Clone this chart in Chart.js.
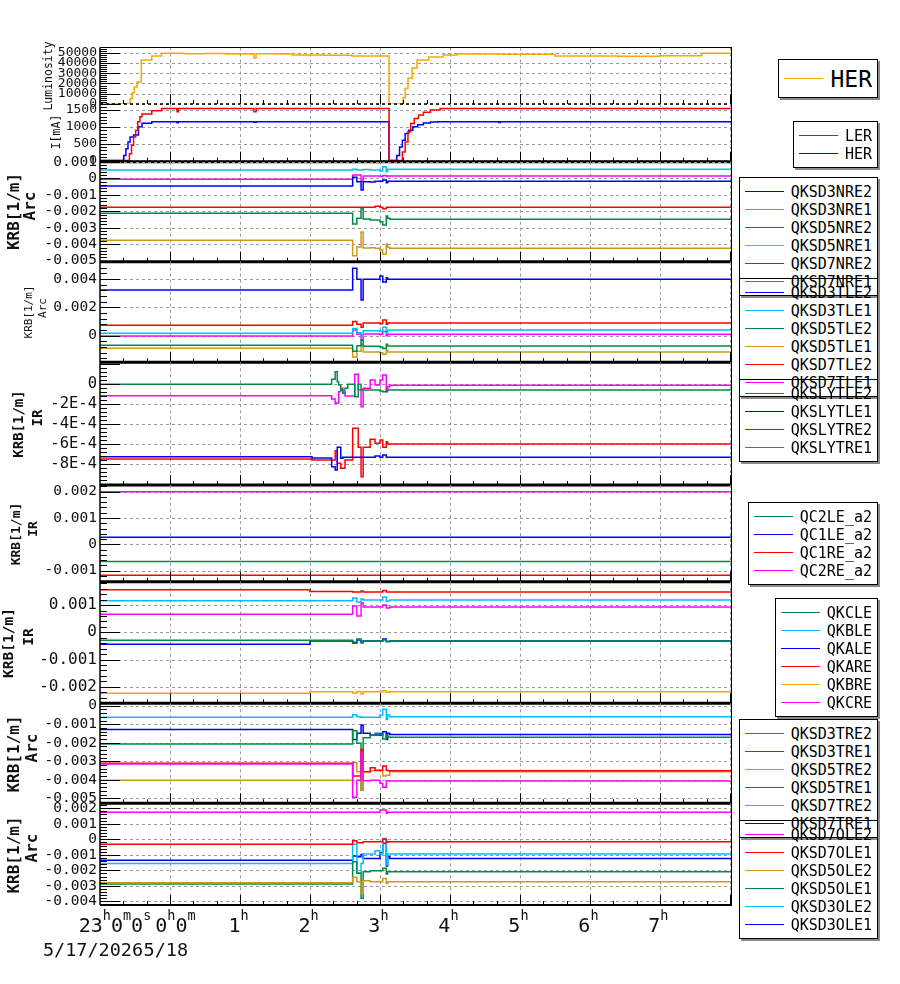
<!DOCTYPE html>
<html>
<head>
<meta charset="utf-8">
<script src="https://cdn.jsdelivr.net/npm/chart.js@4.4.1/dist/chart.umd.min.js"></script>
<style>
  body { margin: 0; background: #fff; }
  #wrap { position: relative; width: 900px; height: 984px; overflow: hidden; }
  #wrap canvas { position: absolute; left: 0; }
  .lg { position: absolute; right: 22px; border: 1px solid #000; box-shadow: 2px 2px 0 #8a8a8a;
        padding: 4.5px 5px; font: 15px "DejaVu Sans Mono", monospace; line-height: 18px; color: #000; }
  .lg div { display: flex; align-items: center; white-space: pre; }
  .lg i { display: inline-block; width: 39px; border-top: 1.5px solid; margin-right: 7px; }
  .lg.big { font-size: 23px; line-height: 28px; }
</style>
</head>
<body>
<div id="wrap"></div>
<script>
// time is in hours since 23:00 on 5/17
const T_END = 9.03;
const hourTicks = [0, 1, 2, 3, 4, 5, 6, 7, 8, 9];
const hourLabels = ['23', '0', '1', '2', '3', '4', '5', '6', '7'];
const dateLabels = ['5/17/2026', '5/18'];

// luminosity (HER)
const tLum = [0, 0.41, 0.43, 0.46, 0.49, 0.53, 0.59, 0.74, 0.88, 1.2, 1.5, 1.8, 2.2, 2.23, 2.5, 2.75, 3.2, 3.6, 4.13,
              4.29, 4.33, 4.36, 4.40, 4.46, 4.53, 4.7, 4.9, 5.1, 5.7, 6.5, 7.4, 8.0, 8.6, 9.03];
const lumHER = [0, 0, 5000, 11000, 16500, 21500, 43000, 46800, 49500, 49000, 49300, 48800, 44800, 49000, 48800, 47800, 47500, 46800, 0,
                0, 6000, 15000, 25000, 35000, 43000, 45800, 47700, 48700, 48500, 46800, 46500, 47000, 49500, 49500];

// beam currents [mA]
const tLER = [0, 0.39, 0.42, 0.45, 0.48, 0.51, 0.54, 0.57, 0.60, 0.74, 0.88, 1.10, 1.12, 2.20, 2.23, 4.13,
              4.29, 4.32, 4.36, 4.40, 4.44, 4.49, 4.55, 4.62, 4.72, 4.86, 9.03];
const curLER = [0, 0, 200, 450, 700, 900, 1150, 1300, 1380, 1480, 1548, 1450, 1548, 1450, 1548, 0,
                0, 250, 550, 850, 1100, 1250, 1350, 1430, 1500, 1548, 1548];
const tHER = [0, 0.31, 0.34, 0.37, 0.40, 0.43, 0.48, 0.55, 0.60, 0.74, 1.10, 1.12, 2.20, 2.23, 4.13,
              4.21, 4.24, 4.28, 4.32, 4.36, 4.41, 4.47, 4.54, 4.62, 4.72, 4.83, 5.70, 5.72, 9.03];
const curHER = [0, 0, 150, 350, 550, 700, 757, 1000, 1104, 1153, 1120, 1153, 1135, 1153, 0,
                0, 150, 400, 600, 800, 900, 1000, 1060, 1110, 1140, 1153, 1130, 1153, 1153];

// sample times of the arc sextupole-skew settings
const tArc = [0, 3.61, 3.67, 3.73, 3.76, 3.86, 3.93, 4.00, 4.04, 4.09, 4.11, 4.14, 9.03];

const nreNames = ['QKSD3NRE2', 'QKSD3NRE1', 'QKSD5NRE2', 'QKSD5NRE1', 'QKSD7NRE2', 'QKSD7NRE1'];
const nreValues = [
  [-0.00047, 0.00006, -0.00021, -0.00071, -0.00021, -0.00022, -0.00018, -0.00018, -0.0001, -0.00027, -0.00018, -0.00018, -0.00018],
  [0.0005, 0.00055, 0.0005, 0.0005, 0.00053, 0.0005, 0.0005, 0.00044, 0.0007, 0.0004, 0.00055, 0.00055, 0.00055],
  [-0.00212, -0.00277, -0.00243, -0.00182, -0.00247, -0.00253, -0.00253, -0.00263, -0.00283, -0.00229, -0.00243, -0.00249, -0.00249],
  [-0.00376, -0.0047, -0.00417, -0.00326, -0.00423, -0.00421, -0.00425, -0.00435, -0.00459, -0.00399, -0.00419, -0.00425, -0.00425],
  [-0.00176, -0.00176, -0.00176, -0.00176, -0.00176, -0.00176, -0.0017, -0.00176, -0.00184, -0.00176, -0.00176, -0.00176, -0.00176],
  [-0.00006, 0.0002, 0.0002, -0.00016, 0.00014, 0.00014, 0.00014, 0.00011, 0.00017, 0.00011, 0.00014, 0.00014, 0.00014]
];

const tleNames = ['QKSD3TLE2', 'QKSD3TLE1', 'QKSD5TLE2', 'QKSD5TLE1', 'QKSD7TLE2', 'QKSD7TLE1'];
const tleValues = [
  [0.00322, 0.00475, 0.00397, 0.00251, 0.00397, 0.00397, 0.00397, 0.0042, 0.00378, 0.00408, 0.00397, 0.00397, 0.00397],
  [0.00017, 0.0005, 0.0002, 0.0, 0.00035, 0.00035, 0.00035, 0.0003, 0.0006, 0.00025, 0.0004, 0.0004, 0.0004],
  [-0.00068, -0.0011, -0.0007, -0.0003, -0.00075, -0.00075, -0.00075, -0.0008, -0.0009, -0.0006, -0.00073, -0.00073, -0.00073],
  [-0.00089, -0.0015, -0.0011, -0.0006, -0.00115, -0.00115, -0.00115, -0.0012, -0.0013, -0.001, -0.00115, -0.00115, -0.00115],
  [0.00073, 0.001, 0.0008, 0.0006, 0.0009, 0.0009, 0.0009, 0.00085, 0.0011, 0.0008, 0.00089, 0.00089, 0.00089],
  [-0.00002, 0.0004, 0.0001, -0.0003, 0.00012, 0.00012, 0.00012, 0.0001, 0.0003, 0.0, 0.0001, 0.0001, 0.0001]
];

// IR skew sextupoles (QKSLY)
const tSly = [0, 3.03, 3.31, 3.36, 3.39, 3.41, 3.44, 3.47, 3.50, 3.54, 3.61, 3.64, 3.69, 3.73, 3.76, 3.86, 3.93, 4.00, 4.04, 4.09, 4.11, 4.14, 9.03];
const slyNames = ['QKSLYTLE2', 'QKSLYTLE1', 'QKSLYTRE2', 'QKSLYTRE1'];
const slyValues = [
  [-0.000006, -0.000006, 0.000044, 0.00012, 0.00002, -0.000013, -0.000063, -0.000096, -0.000046, -0.000006, -0.000006, -0.00013,
   -0.000006, -0.000063, -0.000063, -0.000063, -0.000063, -0.000073, -0.00008, -0.000063, -0.000063, -0.000063, -0.000063],
  [-0.00073, -0.000743, -0.00083, -0.000863, -0.000636, -0.000636, -0.000746, -0.000736, -0.000736, -0.000736, -0.000736, -0.000736,
   -0.000736, -0.000736, -0.000736, -0.000736, -0.000723, -0.000736, -0.000713, -0.000736, -0.000736, -0.000736, -0.000736],
  [-0.000753, -0.000763, -0.000763, -0.00067, -0.000796, -0.000796, -0.000846, -0.000846, -0.000763, -0.000763, -0.000446, -0.000446,
   -0.000636, -0.00093, -0.000636, -0.000556, -0.000596, -0.000563, -0.000636, -0.00058, -0.000603, -0.000603, -0.000603],
  [-0.00012, -0.00012, -0.000153, -0.000196, -0.000193, -0.00008, -0.000046, -0.000096, -0.000123, -0.000123, -0.000123, 0.000094,
   -0.000063, -0.00023, -0.000046, 0.000037, -0.000013, 0.000037, 0.000087, -0.00008, -0.00003, -0.000016, -0.000016]
];

// final-focus skew components
const tQC = [0, 9.03];
const qcNames = ['QC2LE_a2', 'QC1LE_a2', 'QC1RE_a2', 'QC2RE_a2'];
const qcValues = [[-0.00065, -0.00065], [0.00027, 0.00027], [-0.00118, -0.00118], [0.002, 0.002]];

const tQK = [0, 3.0, 3.61, 3.67, 3.73, 3.76, 4.04, 4.09, 4.14, 9.03];
const qkNames = ['QKCLE', 'QKBLE', 'QKALE', 'QKARE', 'QKBRE', 'QKCRE'];
const qkValues = [
  [-0.00029, -0.00029, -0.00036, -0.00025, -0.00039, -0.00032, -0.00028, -0.00034, -0.00032, -0.00032],
  [0.00116, 0.00116, 0.00126, 0.00111, 0.00122, 0.00119, 0.0013, 0.00115, 0.00119, 0.00119],
  [-0.00044, -0.00032, -0.00039, -0.00028, -0.00036, -0.00032, -0.00025, -0.00034, -0.00032, -0.00032],
  [0.00156, 0.0015, 0.00148, 0.00148, 0.00152, 0.00148, 0.00154, 0.00148, 0.00148, 0.00148],
  [-0.00224, -0.00219, -0.00223, -0.00218, -0.00227, -0.00219, -0.00215, -0.0022, -0.00219, -0.00219],
  [0.00066, 0.00066, 0.00097, 0.0006, 0.00108, 0.00093, 0.001, 0.00089, 0.00093, 0.00093]
];

const treNames = ['QKSD3TRE2', 'QKSD3TRE1', 'QKSD5TRE2', 'QKSD5TRE1', 'QKSD7TRE2', 'QKSD7TRE1'];
const treValues = [
  [-0.00315, -0.00495, -0.00402, -0.00257, -0.00405, -0.00402, -0.00402, -0.00419, -0.00441, -0.00405, -0.00405, -0.00407, -0.00407],
  [-0.00311, -0.0038, -0.0038, -0.00236, -0.00357, -0.00335, -0.00348, -0.00348, -0.00326, -0.00348, -0.00351, -0.00351, -0.00351],
  [-0.00402, -0.00308, -0.00357, -0.00456, -0.00357, -0.00351, -0.00351, -0.00351, -0.0038, -0.00375, -0.00375, -0.00357, -0.00357],
  [-0.00207, -0.00135, -0.00203, -0.00456, -0.00173, -0.00158, -0.00149, -0.00149, -0.0018, -0.00158, -0.00169, -0.00171, -0.00171],
  [-0.00063, -0.00049, -0.00059, -0.00063, -0.00063, -0.00063, -0.00063, -0.0005, -0.00019, -0.00074, -0.0005, -0.00059, -0.00059],
  [-0.00128, -0.00182, -0.00149, -0.00104, -0.00149, -0.00158, -0.00158, -0.00158, -0.00141, -0.00182, -0.00149, -0.00155, -0.00155]
];

const oleNames = ['QKSD7OLE2', 'QKSD7OLE1', 'QKSD5OLE2', 'QKSD5OLE1', 'QKSD3OLE2', 'QKSD3OLE1'];
const oleValues = [
  [0.00174, 0.00174, 0.00174, 0.00174, 0.00174, 0.00174, 0.00174, 0.00189, 0.00189, 0.00168, 0.00174, 0.00174, 0.00174],
  [-0.00032, -0.00009, -0.00022, -0.00022, -0.00015, -0.00015, -0.00015, -0.00015, 0, -0.00019, -0.00015, -0.00015, -0.00015],
  [-0.0028, -0.00245, -0.00274, -0.00348, -0.00267, -0.00274, -0.00274, -0.00274, -0.00252, -0.00284, -0.00274, -0.00274, -0.00274],
  [-0.00288, -0.00145, -0.00219, -0.00381, -0.00209, -0.00203, -0.00203, -0.00203, -0.00187, -0.00224, -0.00209, -0.00209, -0.00209],
  [-0.00155, -0.00032, -0.00219, -0.00155, -0.00095, -0.00095, -0.00074, -0.00095, 0.00006, -0.00166, -0.00095, -0.00095, -0.00095],
  [-0.00135, -0.00108, -0.00112, -0.00097, -0.00123, -0.00123, -0.00123, -0.00086, -0.00026, -0.00172, -0.00112, -0.00123, -0.00123]
];

// y tick values per panel
const lumTicks = [0, 10000, 20000, 30000, 40000, 50000];
const curTicks = [0, 500, 1000, 1500];
const nreTicks = [0.001, 0, -0.001, -0.002, -0.003, -0.004, -0.005];
const tleTicks = [0.004, 0.002, 0];
const slyTicks = [0, -0.0002, -0.0004, -0.0006, -0.0008];
const qcTicks = [0.002, 0.001, 0, -0.001];
const qkTicks = [0.001, 0, -0.001, -0.002];
const treTicks = [0, -0.001, -0.002, -0.003, -0.004, -0.005];
const oleTicks = [0.002, 0.001, 0, -0.001, -0.002, -0.003, -0.004];

// ---- styling ----
const BLUE = '#0000ff', CYAN = '#00bfff', GREEN = '#008b4a', GOLD = '#cc9a1a', RED = '#ff0000', MAGENTA = '#ff00ff', ORANGE = '#f5a800';
const FONT = '"DejaVu Sans Mono", monospace';
const six = [BLUE, CYAN, GREEN, GOLD, RED, MAGENTA];

const fmtInt = v => String(v);
const fmtDec = v => v === 0 ? '0' : v.toFixed(3);
const fmtExp = v => v === 0 ? '0' : Math.round(v / 1e-4) + 'E-4';

function group(names, times, values, colors) {
  return names.map((n, i) => ({ name: n, t: times, v: values[i], color: colors[i] }));
}

const panels = [
  { top: 47.5, bottom: 104, min: 0, max: 55070, ticks: lumTicks, fmt: fmtInt, font: 13, edge: 'dash', topLine: true,
    titles: [['Luminosity', 49, 76]], titleFont: '11.5px', legendTop: 59, big: true,
    series: [{ name: 'HER', t: tLum, v: lumHER, color: ORANGE }] },
  { top: 104, bottom: 161.7, min: -36, max: 1678, ticks: curTicks, fmt: fmtInt, font: 13, edge: 3,
    titles: [['I[mA]', 57, 132]], titleFont: '11.5px', legendTop: 121,
    series: [{ name: 'LER', t: tLER, v: curLER, color: RED }, { name: 'HER', t: tHER, v: curHER, color: BLUE }] },
  { top: 161.7, bottom: 261.7, min: -0.00506, max: 0.001007, ticks: nreTicks, fmt: fmtDec, font: 14.5, edge: 3,
    titles: [['KRB[1/m]', 15, 211.5], ['Arc', 31, 206]], titleFont: 'bold 16px', legendTop: 177,
    series: group(nreNames, tArc, nreValues, six) },
  { top: 261.7, bottom: 362.3, min: -0.001873, max: 0.00521, ticks: tleTicks, fmt: fmtDec, font: 14.5, edge: 3,
    titles: [['KRB[1/m]', 29, 312], ['Arc', 43, 308]], titleFont: '11px', legendTop: 278,
    series: group(tleNames, tArc, tleValues, six) },
  { top: 362.3, bottom: 485, min: -0.001013, max: 0.000214, ticks: slyTicks, fmt: fmtExp, font: 15.5, edge: 3,
    titles: [['KRB[1/m]', 19, 424], ['IR', 38, 418]], titleFont: 'bold 14px', legendTop: 379,
    series: group(slyNames, tSly, slyValues, [GREEN, BLUE, RED, MAGENTA]) },
  { top: 485, bottom: 581.7, min: -0.001422, max: 0.002255, ticks: qcTicks, fmt: fmtDec, font: 14.5, edge: 3,
    titles: [['KRB[1/m]', 16.5, 534], ['IR', 33.5, 529]], titleFont: 'bold 13px', legendTop: 502,
    series: group(qcNames, tQC, qcValues, [GREEN, BLUE, RED, MAGENTA]) },
  { top: 581.7, bottom: 703.3, min: -0.00261, max: 0.00186, ticks: qkTicks, fmt: fmtDec, font: 16, edge: 3,
    titles: [['KRB[1/m]', 9, 643], ['IR', 29, 637]], titleFont: 'bold 14.5px', legendTop: 598,
    series: group(qkNames, tQK, qkValues, [GREEN, CYAN, BLUE, RED, ORANGE, MAGENTA]) },
  { top: 703.3, bottom: 803.3, min: -0.00527, max: 0.00013, ticks: treTicks, fmt: fmtDec, font: 14.5, edge: 3,
    titles: [['KRB[1/m]', 14.5, 754], ['Arc', 32.5, 748]], titleFont: 'bold 16px', legendTop: 719,
    series: group(treNames, tArc, treValues, [MAGENTA, RED, GOLD, GREEN, CYAN, BLUE]) },
  { top: 803.3, bottom: 905, min: -0.00423, max: 0.00232, ticks: oleTicks, fmt: fmtDec, font: 14.5, edge: 2, xLabels: true,
    titles: [['KRB[1/m]', 14.5, 855], ['Arc', 32.5, 848]], titleFont: 'bold 16px', legendTop: 820,
    series: group(oleNames, tArc, oleValues, [MAGENTA, RED, GOLD, GREEN, CYAN, BLUE]) }
];

function framePlugin(p, top) {
  return {
    id: 'frame',
    beforeDatasetsDraw(chart) {
      const { ctx, chartArea: a, scales: { x, y } } = chart;
      ctx.save();
      ctx.strokeStyle = '#9a9a9a';
      ctx.lineWidth = 1;
      ctx.setLineDash([3, 3]);
      ctx.beginPath();
      hourTicks.forEach(h => {
        if (h <= 0 || h >= T_END) return;
        const X = Math.round(x.getPixelForValue(h)) + 0.5;
        ctx.moveTo(X, a.top); ctx.lineTo(X, a.bottom);
      });
      y.ticks.forEach(t => {
        const Y = Math.round(y.getPixelForValue(t.value)) + 0.5;
        ctx.moveTo(a.left, Y); ctx.lineTo(a.right, Y);
      });
      ctx.stroke();
      ctx.restore();
    },
    afterDatasetsDraw(chart) {
      const { ctx, chartArea: a, scales: { x, y } } = chart;
      ctx.save();
      ctx.setLineDash([]);
      ctx.strokeStyle = '#000';
      ctx.lineWidth = 1;

      // tick marks, drawn inward
      const step = Math.abs(p.ticks[1] - p.ticks[0]);
      const minor = step / 5;
      ctx.beginPath();
      const k0 = Math.ceil(y.min / minor - 1e-6), k1 = Math.floor(y.max / minor + 1e-6);
      for (let k = k0; k <= k1; k++) {
        const Y = Math.round(y.getPixelForValue(k * minor)) + 0.5;
        ctx.moveTo(a.left, Y); ctx.lineTo(a.left + (k % 5 === 0 ? 20 : 7), Y);
      }
      for (let k = 1; k / 3 <= T_END; k++) {
        const X = Math.round(x.getPixelForValue(k / 3)) + 0.5;
        ctx.moveTo(X, a.bottom); ctx.lineTo(X, a.bottom - (k % 3 === 0 ? 10 : 4));
      }
      ctx.stroke();

      // frame
      ctx.lineWidth = 1.5;
      ctx.beginPath(); ctx.moveTo(a.left, a.top); ctx.lineTo(a.left, a.bottom); ctx.stroke();
      ctx.lineWidth = 1;
      ctx.beginPath(); ctx.moveTo(a.right - 0.5, a.top); ctx.lineTo(a.right - 0.5, a.bottom); ctx.stroke();
      if (p.topLine) {
        ctx.beginPath(); ctx.moveTo(a.left, a.top); ctx.lineTo(a.right, a.top); ctx.stroke();
      }
      if (p.edge === 'dash') {
        ctx.lineWidth = 1.5;
        ctx.setLineDash([3, 3]);
        ctx.beginPath(); ctx.moveTo(a.left, a.bottom); ctx.lineTo(a.right, a.bottom); ctx.stroke();
        ctx.setLineDash([]);
      } else {
        ctx.lineWidth = p.edge;
        ctx.beginPath(); ctx.moveTo(a.left, a.bottom); ctx.lineTo(a.right, a.bottom); ctx.stroke();
      }

      // axis titles
      ctx.fillStyle = '#111';
      ctx.textAlign = 'center';
      ctx.textBaseline = 'middle';
      ctx.font = p.titleFont + ' ' + FONT;
      p.titles.forEach(([txt, cx, cy]) => {
        ctx.save();
        ctx.translate(cx, cy - top);
        ctx.rotate(-Math.PI / 2);
        ctx.fillText(txt, 0, 0);
        ctx.restore();
      });

      // time axis labels with superscript units
      if (p.xLabels) {
        ctx.textAlign = 'left';
        ctx.textBaseline = 'alphabetic';
        const big = '20px ' + FONT, sup = '13.5px ' + FONT;
        hourLabels.forEach((lab, i) => {
          let parts = [[lab, 0], ['h', 1]];
          if (i === 0) parts = parts.concat([['0', 0], ['m', 1], ['0', 0], ['s', 1]]);
          if (i === 1) parts = parts.concat([['0', 0], ['m', 1]]);
          let w = 0;
          parts.forEach(([s, u]) => { ctx.font = u ? sup : big; w += ctx.measureText(s).width; });
          const shift = i === 0 ? 15 : i === 1 ? 5.5 : -1.5;
          let cx = x.getPixelForValue(hourTicks[i]) - w / 2 + shift;
          parts.forEach(([s, u]) => {
            ctx.font = u ? sup : big;
            ctx.fillText(s, cx, (u ? 920 : 932) - top);
            cx += ctx.measureText(s).width;
          });
        });
        ctx.font = '18.5px ' + FONT;
        ctx.textAlign = 'center';
        dateLabels.forEach((d, i) => {
          ctx.fillText(d, x.getPixelForValue(hourTicks[i]) + (i === 0 ? -7 : -4.2), 956 - top);
        });
      }
      ctx.restore();
    }
  };
}

const wrap = document.getElementById('wrap');

panels.forEach(p => {
  const top = Math.floor(p.top) - 14;
  const height = Math.ceil(p.bottom) + (p.xLabels ? 66 : 14) - top;
  const cv = document.createElement('canvas');
  cv.width = 735;
  cv.height = height;
  cv.style.top = top + 'px';
  wrap.appendChild(cv);

  new Chart(cv, {
    type: 'line',
    data: {
      datasets: p.series.map(s => ({
        label: s.name,
        data: s.t.map((t, i) => ({ x: t, y: s.v[i] })),
        borderColor: s.color,
        borderWidth: 1.5,
        pointRadius: 0,
        stepped: true,
        fill: false
      }))
    },
    options: {
      responsive: false,
      animation: false,
      events: [],
      layout: { padding: { top: p.top - top, bottom: height - (p.bottom - top), left: 0, right: 3 } },
      plugins: { legend: { display: false }, tooltip: { enabled: false } },
      scales: {
        x: {
          type: 'linear', min: 0, max: T_END,
          ticks: { display: false },
          grid: { display: false },
          border: { display: false },
          afterFit: s => { s.height = 0; }
        },
        y: {
          min: p.min, max: p.max,
          afterBuildTicks: s => { s.ticks = p.ticks.map(v => ({ value: v })); },
          afterFit: s => { s.width = 100; },
          ticks: {
            autoSkip: false, padding: 3, color: '#111',
            font: { family: 'DejaVu Sans Mono', size: p.font },
            callback: v => p.fmt(v)
          },
          grid: { display: false, drawTicks: false },
          border: { display: false }
        }
      }
    },
    plugins: [framePlugin(p, top)]
  });

  // legend box
  const box = document.createElement('div');
  box.className = 'lg' + (p.big ? ' big' : '');
  box.style.top = p.legendTop + 'px';
  p.series.forEach(s => {
    const row = document.createElement('div');
    const sw = document.createElement('i');
    sw.style.borderTopColor = s.color;
    row.appendChild(sw);
    row.appendChild(document.createTextNode(s.name));
    box.appendChild(row);
  });
  wrap.appendChild(box);
});
</script>
</body>
</html>
